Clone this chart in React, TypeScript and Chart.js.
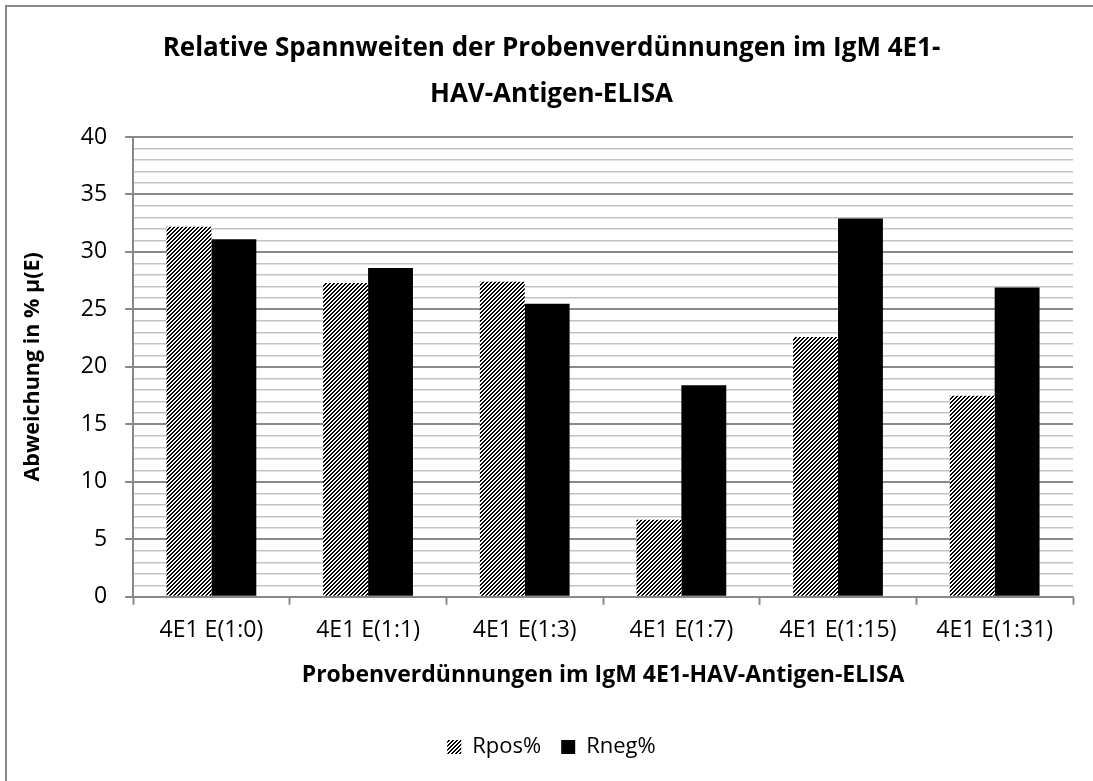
import { useEffect, useRef } from 'react';
import { Chart, registerables } from 'chart.js';

Chart.register(...registerables);

const categories = ['4E1 E(1:0)', '4E1 E(1:1)', '4E1 E(1:3)', '4E1 E(1:7)', '4E1 E(1:15)', '4E1 E(1:31)'];
const rposValues = [32.2, 27.3, 27.4, 6.7, 22.6, 17.5];
const rnegValues = [31.1, 28.6, 25.5, 18.4, 32.9, 26.9];
const seriesNames = ['Rpos%', 'Rneg%'];
const titleLines = ['Relative Spannweiten der Probenverdünnungen im IgM 4E1-', 'HAV-Antigen-ELISA'];
const xAxisTitle = 'Probenverdünnungen im IgM 4E1-HAV-Antigen-ELISA';
const yAxisTitle = 'Abweichung in % µ(E)';
const yMin = 0;
const yMax = 40;
const yMajorStep = 5;
const yMinorStep = 1;

const FONT = "'Open Sans', sans-serif";
const MAJOR = '#898989';
const MINOR = '#c3c3c3';

function makeHatch(ctx: CanvasRenderingContext2D): CanvasPattern | string {
  const c = document.createElement('canvas');
  c.width = 8;
  c.height = 8;
  const g = c.getContext('2d');
  if (!g) return '#555';
  const img = g.createImageData(8, 8);
  for (let y = 0; y < 8; y++) {
    for (let x = 0; x < 8; x++) {
      const i = (y * 8 + x) * 4;
      const v = (x + y) % 4 < 2 ? 0 : 255;
      img.data[i] = v;
      img.data[i + 1] = v;
      img.data[i + 2] = v;
      img.data[i + 3] = 255;
    }
  }
  g.putImageData(img, 0, 0);
  return ctx.createPattern(c, 'repeat') || '#555';
}

export default function App() {
  const canvasRef = useRef<HTMLCanvasElement | null>(null);

  useEffect(() => {
    const canvas = canvasRef.current;
    if (!canvas) return;
    const ctx = canvas.getContext('2d');
    if (!ctx) return;
    const hatch = makeHatch(ctx);
    const isMajor = (c: any) => c.tick && Math.round(c.tick.value) % yMajorStep === 0;

    const chart = new Chart(canvas, {
      type: 'bar',
      data: {
        labels: categories,
        datasets: [
          {
            label: seriesNames[0],
            data: rposValues,
            backgroundColor: hatch as any,
            borderWidth: 0,
            barPercentage: 1,
            categoryPercentage: 0.573,
          },
          {
            label: seriesNames[1],
            data: rnegValues,
            backgroundColor: '#000000',
            borderWidth: 0,
            barPercentage: 1,
            categoryPercentage: 0.573,
          },
        ],
      },
      options: {
        animation: false,
        responsive: false,
        layout: { padding: { left: 30, right: 20, top: 0, bottom: 13 } },
        plugins: {
          title: {
            display: true,
            text: titleLines,
            color: '#000',
            font: { family: FONT, size: 26, weight: 'bold', lineHeight: 1.75 },
            padding: { top: 26, bottom: 20 },
          },
          legend: {
            position: 'bottom',
            labels: {
              font: { family: FONT, size: 22 },
              color: '#000',
              boxWidth: 14,
              boxHeight: 14,
              padding: 20,
            },
          },
          tooltip: { enabled: false },
        },
        scales: {
          x: {
            offset: true,
            grid: {
              offset: true,
              drawOnChartArea: false,
              drawTicks: true,
              tickLength: 8,
              tickColor: MAJOR,
              tickWidth: 2,
            },
            border: { color: MAJOR, width: 2 },
            ticks: {
              font: { family: FONT, size: 23 },
              color: '#000',
              padding: 12,
              maxRotation: 0,
              autoSkip: false,
            },
            title: {
              display: true,
              text: xAxisTitle,
              color: '#000',
              font: { family: FONT, size: 23, weight: 'bold' },
              padding: { top: 5, bottom: 27 },
            },
          },
          y: {
            min: yMin,
            max: yMax,
            ticks: {
              stepSize: yMinorStep,
              autoSkip: false,
              callback: (v: any) => (Math.round(Number(v)) % yMajorStep === 0 ? String(v) : ''),
              font: { family: FONT, size: 23 },
              color: '#000',
              padding: 18,
            },
            grid: {
              color: (c: any) => (isMajor(c) ? MAJOR : MINOR),
              lineWidth: (c: any) => (isMajor(c) ? 2 : 1.5),
              tickLength: 8,
              tickColor: (c: any) => (isMajor(c) ? MAJOR : 'rgba(0,0,0,0)'),
              tickWidth: 2,
            },
            border: { color: MAJOR, width: 2 },
            title: {
              display: true,
              text: yAxisTitle,
              color: '#000',
              font: { family: FONT, size: 21.5, weight: 'bold' },
              padding: { top: -10, bottom: 17 },
            },
          },
        },
      },
    });
    return () => chart.destroy();
  }, []);

  return (
    <div style={{ position: 'absolute', left: 0, top: 0, width: 1093, height: 781, overflow: 'hidden', background: '#fff' }}>
      <div
        style={{
          position: 'absolute',
          left: 5,
          top: 5,
          width: 1200,
          height: 1000,
          border: '2px solid #898989',
          boxSizing: 'border-box',
        }}
      />
      <canvas ref={canvasRef} width={1093} height={781} style={{ position: 'absolute', left: 0, top: 0 }} />
    </div>
  );
}
